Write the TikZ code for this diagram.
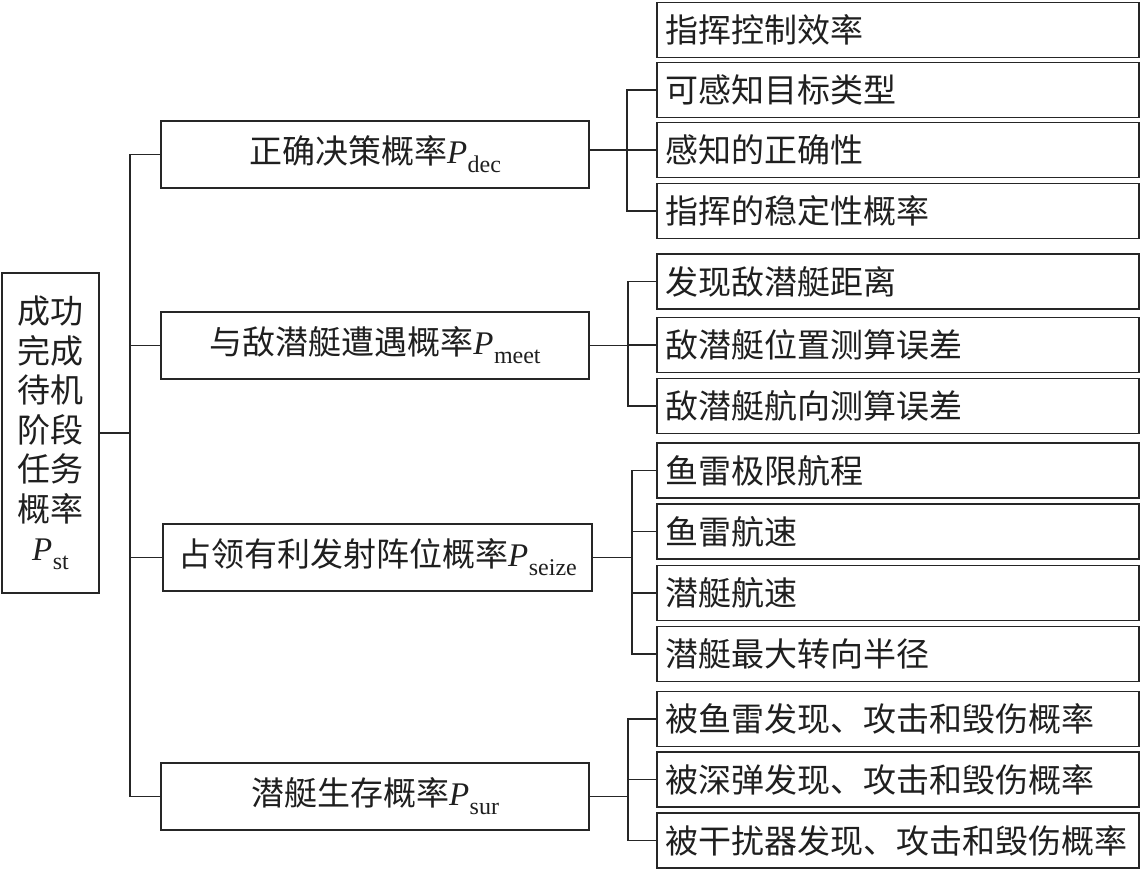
\documentclass[tikz,border=0pt]{standalone}
\usepackage{fontspec}
\setmainfont{Liberation Serif}
\newfontfamily\cjk{Noto Sans CJK SC}
\newcommand\Psub[1]{\textit{P}\kern0.5pt\raisebox{-0.28em}{\fontsize{24}{24}\selectfont #1}}
\begin{document}
\begin{tikzpicture}[x=1pt,y=-1pt,
  every node/.style={font=\fontsize{33}{39.5}\selectfont, text=black!88},
  bx/.style={draw=black!85, line width=1.8pt, inner sep=0pt},
  midbox/.style={bx, minimum width=428pt, minimum height=67pt},
  rbox/.style={bx, anchor=west, minimum height=55pt, text width=464pt, inner xsep=9pt, align=left},
  conn/.style={draw=black!85, line width=1.5pt}]
\useasboundingbox (0,0) rectangle (1142,872);

% root
\node[bx, minimum width=97pt, minimum height=320pt, align=center] (root) at (50.5,433)
  {{\cjk 成功}\\{\cjk 完成}\\{\cjk 待机}\\{\cjk 阶段}\\{\cjk 任务}\\{\cjk 概率}\\\Psub{st}};

% middle level
\node[midbox] (m1) at (375,154.5) {{\cjk 正确决策概率}\Psub{dec}};
\node[midbox] (m2) at (375,345.5) {{\cjk 与敌潜艇遭遇概率}\Psub{meet}};
\node[midbox, minimum width=429pt] (m3) at (377.5,557.5) {{\cjk 占领有利发射阵位概率}\Psub{seize}};
\node[midbox] (m4) at (375,796.5) {{\cjk 潜艇生存概率}\Psub{sur}};

% right level
\node[rbox] (r1) at (656,30) {\cjk 指挥控制效率};
\node[rbox] (r2) at (656,90) {\cjk 可感知目标类型};
\node[rbox] (r3) at (656,150) {\cjk 感知的正确性};
\node[rbox] (r4) at (656,211) {\cjk 指挥的稳定性概率};
\node[rbox] (r5) at (656,281.5) {\cjk 发现敌潜艇距离};
\node[rbox] (r6) at (656,345) {\cjk 敌潜艇位置测算误差};
\node[rbox] (r7) at (656,406) {\cjk 敌潜艇航向测算误差};
\node[rbox] (r8) at (656,470.5) {\cjk 鱼雷极限航程};
\node[rbox] (r9) at (656,531.5) {\cjk 鱼雷航速};
\node[rbox] (r10) at (656,593) {\cjk 潜艇航速};
\node[rbox] (r11) at (656,654) {\cjk 潜艇最大转向半径};
\node[rbox] (r12) at (656,719) {\cjk 被鱼雷发现、攻击和毁伤概率};
\node[rbox] (r13) at (656,779.5) {\cjk 被深弹发现、攻击和毁伤概率};
\node[rbox] (r14) at (656,840.5) {\cjk 被干扰器发现、攻击和毁伤概率};

% trunk
\coordinate (T) at (130,0);
\draw[conn] (root.east) -- (root.east -| T);
\draw[conn] (m1.west) -- (m1.west -| T) -- (m4.west -| T) -- (m4.west);
\draw[conn] (m2.west) -- (m2.west -| T);
\draw[conn] (m3.west) -- (m3.west -| T);

% group 1
\coordinate (B1) at (627,0);
\draw[conn] (r2.west) -- (r2.west -| B1) -- (r4.west -| B1) -- (r4.west);
\draw[conn] (m1.east |- r3.west) -- (r3.west);

% group 2
\coordinate (B2) at (628,0);
\draw[conn] (r5.west) -- (r5.west -| B2) -- (r7.west -| B2) -- (r7.west);
\draw[conn] (m2.east) -- (m2.east -| B2);
\draw[conn] (r6.west) -- (r6.west -| B2);

% group 3
\coordinate (B3) at (632,0);
\draw[conn] (r8.west) -- (r8.west -| B3) -- (r11.west -| B3) -- (r11.west);
\draw[conn] (m3.east) -- (m3.east -| B3);
\draw[conn] (r9.west) -- (r9.west -| B3);
\draw[conn] (r10.west) -- (r10.west -| B3);

% group 4
\coordinate (B4) at (628,0);
\draw[conn] (r12.west) -- (r12.west -| B4) -- (r14.west -| B4) -- (r14.west);
\draw[conn] (m4.east) -- (m4.east -| B4);
\draw[conn] (r13.west) -- (r13.west -| B4);
\end{tikzpicture}
\end{document}
